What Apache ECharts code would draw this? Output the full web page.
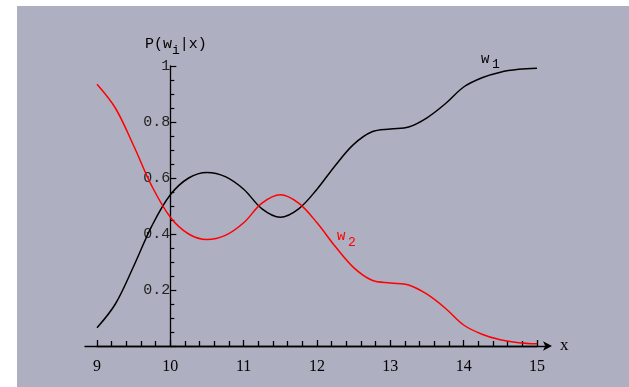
<!DOCTYPE html>
<html><head><meta charset="utf-8">
<script src="https://cdn.jsdelivr.net/npm/echarts@6/dist/echarts.min.js"></script>
<style>html,body{margin:0;padding:0;background:#fff;}#c{width:629px;height:387px;}</style>
</head><body><div id="c"></div>
<script>
const xValues  = [9, 9.25, 9.5, 9.75, 10, 10.25, 10.5, 10.75, 11, 11.25, 11.5, 11.75, 12, 12.25, 12.5, 12.75, 13, 13.25, 13.5, 13.75, 14, 14.25, 14.5, 14.75, 15];
const w1Values = [0.065, 0.15, 0.285, 0.43, 0.54, 0.60, 0.62, 0.605, 0.56, 0.49, 0.46, 0.49, 0.56, 0.645, 0.72, 0.765, 0.775, 0.782, 0.815, 0.865, 0.925, 0.958, 0.978, 0.988, 0.992];
const w2Values = [0.935, 0.85, 0.715, 0.57, 0.46, 0.40, 0.38, 0.395, 0.44, 0.51, 0.54, 0.51, 0.44, 0.355, 0.28, 0.235, 0.225, 0.218, 0.185, 0.135, 0.075, 0.042, 0.022, 0.012, 0.008];
const xTickMin = 9, xTickMax = 15, xTickStep = 1;
const yTickMin = 0, yTickMax = 1, yTickStep = 0.2;
const yAxisName = 'P(w{s|i}|x)';
const xAxisName = 'x';
const series1Name = 'w';
const series1Sub = '1';
const series2Name = 'w';
const series2Sub = '2';

const chart = echarts.init(document.getElementById('c'), null, {renderer: 'canvas'});
const mono = "'Liberation Mono', 'DejaVu Sans Mono', monospace";
const serif = "'Liberation Serif', 'DejaVu Serif', serif";
const PX_PER_UNIT = 440 / (xTickMax - xTickMin);
const yAxisOffset = -(10 - xTickMin) * PX_PER_UNIT;

chart.setOption({
  animation: false,
  backgroundColor: '#ffffff',
  grid: [
    {left: 85, right: 81, top: 66, bottom: 41, containLabel: false},
    {left: 97, right: 92, top: 66, bottom: 41, containLabel: false}
  ],
  xAxis: [
    {
      type: 'value', gridIndex: 0, min: 0, max: 1, position: 'bottom',
      name: xAxisName, nameLocation: 'end', nameGap: 12,
      nameTextStyle: {fontFamily: serif, fontSize: 17, color: '#000', verticalAlign: 'middle', padding: [0,0,2,0]},
      splitLine: {show: false},
      axisLine: {show: true, lineStyle: {color: '#000', width: 1.3}, symbol: ['none', 'arrow'], symbolSize: [7, 9], symbolOffset: [0, 4]},
      axisTick: {show: false}, axisLabel: {show: false}
    },
    {
      type: 'value', gridIndex: 1, min: xTickMin, max: xTickMax, interval: xTickStep, position: 'bottom',
      splitLine: {show: false},
      axisLine: {show: true, onZero: false, lineStyle: {color: '#000', width: 1.3}},
      axisTick: {show: true, inside: true, length: 6, lineStyle: {color: '#000', width: 1.3}},
      minorTick: {show: true, splitNumber: 5, length: 5, lineStyle: {color: '#000', width: 1.3}},
      axisLabel: {show: true, margin: 13, fontFamily: serif, fontSize: 16, color: '#000'}
    }
  ],
  yAxis: [
    {type: 'value', gridIndex: 0, min: 0, max: 1, show: false},
    {
      type: 'value', gridIndex: 1, min: yTickMin, max: yTickMax, interval: yTickStep, position: 'left', offset: yAxisOffset,
      splitLine: {show: false},
      axisLine: {show: true, onZero: false, lineStyle: {color: '#000', width: 1.3}},
      axisTick: {show: true, inside: true, length: 6, lineStyle: {color: '#000', width: 1.2}},
      minorTick: {show: true, splitNumber: 4, length: 4, lineStyle: {color: '#000', width: 1.2}},
      axisLabel: {show: true, margin: 0, fontFamily: mono, fontSize: 15, color: '#222',
        formatter: v => v === 0 ? '' : String(+v.toFixed(2))}
    }
  ],
  graphic: [
    {type: 'rect', silent: true, z: -100, shape: {x: 17, y: 6, width: 612, height: 381}, style: {fill: '#aeb0c1'}},
    {type: 'text', left: 145, top: 37, style: {text: yAxisName, font: "15px 'Liberation Mono'", fill: '#000',
      rich: {s: {fontFamily: mono, fontSize: 13, fill: '#000', padding: [12, 0, 0, 0]}}}},
    {type: 'text', left: 481, top: 52, style: {text: series1Name, font: "14px 'Liberation Mono'", fill: '#000'}},
    {type: 'text', left: 492, top: 58, style: {text: series1Sub, font: "13px 'Liberation Mono'", fill: '#000'}},
    {type: 'text', left: 337, top: 229, style: {text: series2Name, font: "14px 'Liberation Mono'", fill: '#ff0000'}},
    {type: 'text', left: 348, top: 236, style: {text: series2Sub, font: "13px 'Liberation Mono'", fill: '#ff0000'}}
  ],
  series: [
    {type: 'line', name: 'w1', xAxisIndex: 1, yAxisIndex: 1, smooth: 0.35, showSymbol: false,
      data: xValues.map((x, i) => [x, w1Values[i]]), lineStyle: {color: '#000', width: 1.5}},
    {type: 'line', name: 'w2', xAxisIndex: 1, yAxisIndex: 1, smooth: 0.35, showSymbol: false,
      data: xValues.map((x, i) => [x, w2Values[i]]), lineStyle: {color: '#ff0000', width: 1.5}}
  ]
});
</script></body></html>
